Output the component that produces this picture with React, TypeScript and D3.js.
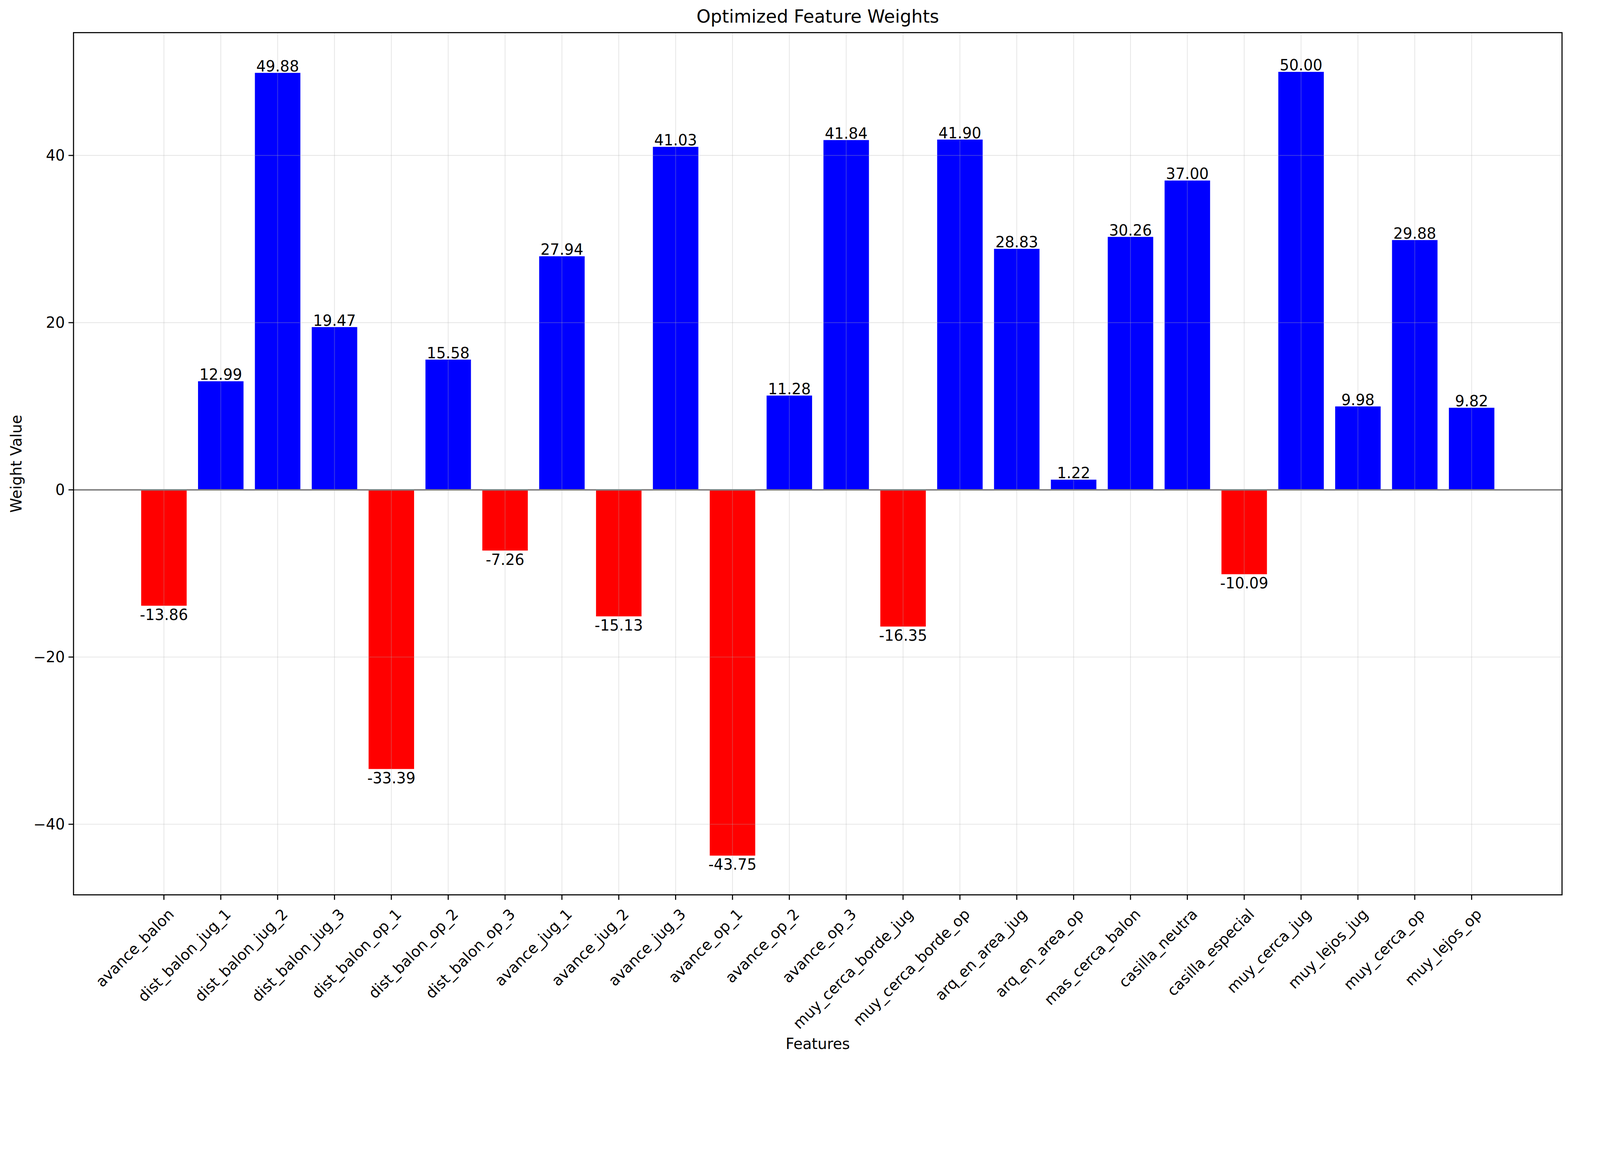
import React from "react";
import * as d3 from "d3";

const features = ["avance_balon","dist_balon_jug_1","dist_balon_jug_2","dist_balon_jug_3","dist_balon_op_1","dist_balon_op_2","dist_balon_op_3","avance_jug_1","avance_jug_2","avance_jug_3","avance_op_1","avance_op_2","avance_op_3","muy_cerca_borde_jug","muy_cerca_borde_op","arq_en_area_jug","arq_en_area_op","mas_cerca_balon","casilla_neutra","casilla_especial","muy_cerca_jug","muy_lejos_jug","muy_cerca_op","muy_lejos_op"];
const weights = [-13.86,12.99,49.88,19.47,-33.39,15.58,-7.26,27.94,-15.13,41.03,-43.75,11.28,41.84,-16.35,41.9,28.83,1.22,30.26,37.0,-10.09,50.0,9.98,29.88,9.82];
const yTicks = [-40,-20,0,20,40];

export default function App() {
  const W = 4470, H = 2964;
  const L = 205, R = 4356, T = 91, B = 2495;
  const x = d3.scaleLinear().domain([-1.59, 24.59]).range([L, R]);
  const y = d3.scaleLinear().domain([-48.44, 54.69]).range([B, T]);
  const bw = x(0.8) - x(0);
  const fs = 41.7;
  const k = 0.918;
  return (
    <svg width={W * k} height={H * k} viewBox={`0 0 ${W} ${H}`}
      style={{ display: "block", position: "absolute", left: 0, top: 0, fontFamily: "DejaVu Sans" }}>
      <rect width={W} height={H} fill="white" />
      {weights.map((v, i) => (
        <rect key={i} x={x(i) - bw / 2} y={y(Math.max(v, 0))} width={bw}
          height={Math.abs(y(v) - y(0))} fill={v >= 0 ? "blue" : "red"} />
      ))}
      {yTicks.map(t => (
        <line key={t} x1={L} x2={R} y1={y(t)} y2={y(t)} stroke="#b0b0b0" strokeOpacity={0.3} strokeWidth={2.3} />
      ))}
      {features.map((f, i) => (
        <line key={f} x1={x(i)} x2={x(i)} y1={T} y2={B} stroke="#b0b0b0" strokeOpacity={0.3} strokeWidth={2.3} />
      ))}
      <line x1={L} x2={R} y1={y(0)} y2={y(0)} stroke="gray" strokeWidth={4} />
      {weights.map((v, i) => (
        <text key={i} x={x(i)} y={v >= 0 ? y(v) - 4 : y(v) + fs * 0.95} textAnchor="middle" fontSize={fs}>
          {v.toFixed(2)}
        </text>
      ))}
      <rect x={L} y={T} width={R - L} height={B - T} fill="none" stroke="black" strokeWidth={3} />
      {yTicks.map(t => (
        <g key={t}>
          <line x1={L - 14} x2={L} y1={y(t)} y2={y(t)} stroke="black" strokeWidth={3} />
          <text x={L - 24} y={y(t)} dy="0.35em" textAnchor="end" fontSize={fs}>{t < 0 ? "\u2212" + Math.abs(t) : t}</text>
        </g>
      ))}
      {features.map((f, i) => (
        <g key={f}>
          <line x1={x(i)} x2={x(i)} y1={B} y2={B + 14} stroke="black" strokeWidth={3} />
          <text transform={`translate(${x(i) + 10},${B + 36}) rotate(-45)`} textAnchor="end" dy="0.7em" fontSize={fs}>{f}</text>
        </g>
      ))}
      <text x={(L + R) / 2} y={T - 28} textAnchor="middle" fontSize={50}>Optimized Feature Weights</text>
      <text x={(L + R) / 2} y={2925} textAnchor="middle" fontSize={fs}>Features</text>
      <text transform={`translate(60,${(T + B) / 2}) rotate(-90)`} textAnchor="middle" fontSize={fs}>Weight Value</text>
    </svg>
  );
}
